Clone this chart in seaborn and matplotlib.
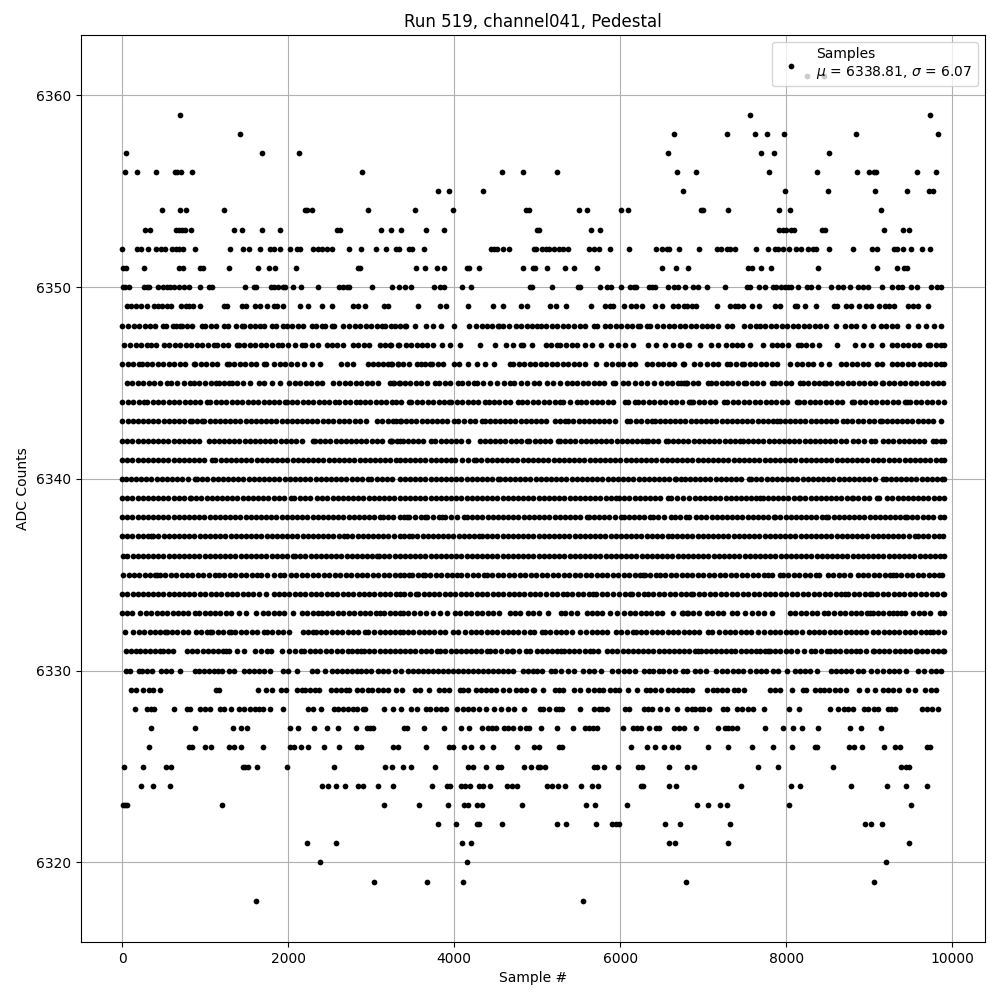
# Pedestal samples for one channel, sample numbers read per ADC level
import numpy as np
import pandas as pd
import seaborn as sns
import matplotlib
matplotlib.use("Agg")
import matplotlib.pyplot as plt

s6318 = [1608, 5550]
s6319 = [3036, 3672, 4104, 6798, 9054]
s6320 = [2388, 4152, 9198]
s6321 = [2232, 2580, 4092, 4204, 6594, 6666, 7302, 9474]
s6322 = [3804, 4020, 4276, 4304, 4572, 5238, 5346, 5706, 5898, 5946, 5982, 6546, 6726, 7326, 8946, 9018, 9150]
s6323 = [8, 32, 60, 1200, 3156, 3576, 3924, 4124, 4172, 4280, 4340, 4812, 5586, 5694, 6078, 6930, 7062, 7206, 7290, 8034, 9498]
s6324 = [228, 372, 576, 2412, 2484, 2580, 2688, 2844, 2904, 3084, 3264, 3732, 3912, 3952, 4080, 4132, 4192, 4304, 4352, 4428, 4632, 4696, 4756,
         5118, 5178, 5250, 5334, 5526, 5658, 5730, 6246, 6274, 6594, 6678, 7458, 8058, 8166, 8778, 9210, 9438, 9702]
s6325 = [24, 252, 528, 588, 1452, 1484, 1520, 1620, 1992, 2556, 3168, 3252, 3384, 3480, 3768, 4164, 4224, 4380, 4524, 4560, 4836, 4920, 5012,
         5034, 5094, 5682, 5718, 5802, 5970, 6210, 6262, 6594, 6810, 6894, 7662, 7902, 8562, 9378, 9438, 9482]
s6326 = [324, 804, 840, 996, 1068, 1284, 1344, 1428, 1692, 2028, 2072, 2160, 2244, 2436, 2616, 2832, 2876, 3264, 3324, 3660, 3944, 3984, 4116, 4200, 4332, 4464, 4752, 4964, 5018,
         5262, 5302, 6126, 6318, 6414, 6534, 6630, 6702, 7062, 7302, 7590, 7842, 8070, 8342, 8370, 8754, 8814, 8910, 9174, 9306, 9366, 9702, 9734]
s6327 = [348, 876, 1332, 1428, 1500, 2028, 2124, 2316, 2472, 2604, 2816, 2952, 2984, 3024, 3396, 3432, 3636, 3876, 4080, 4176, 4332, 4404, 4452, 4504, 4604, 4648, 4704, 4788, 4864, 4904,
         5046, 5238, 5430, 5574, 5622, 5670, 5726, 6030, 6150, 6202, 6254, 6346, 6434, 6470, 6654, 6714, 6766, 6918, 7182, 7258, 7302, 7350, 7402, 7746, 7962, 8082, 8190, 8382, 8766, 8898, 9138]
s6328 = [156, 304, 344, 384, 624, 784, 824, 936, 1004, 1064, 1176, 1224, 1308, 1404, 1464, 1536, 1604, 1644, 1692, 1776, 1944, 2244, 2304, 2400, 2552, 2604, 2664, 2724, 2784, 2832, 2904, 2932,
         3156, 3264, 3364, 3480, 3552, 3664, 3712, 3776, 3844, 3904, 4032, 4112, 4164, 4224, 4304, 4384, 4476, 4564, 4648, 4724, 4836, 5034, 5074, 5142, 5222, 5262, 5302, 5522, 5682, 5742, 5782, 5842,
         6054, 6102, 6282, 6330, 6382, 6482, 6570, 6690, 6802, 6862, 6902, 6962, 7002, 7074, 7242, 7282, 7410, 7462, 7542, 7602, 7734, 8034, 8154, 8530, 8622, 8702, 8742, 8802, 8934, 8982, 9062, 9106,
         9222, 9262, 9314, 9642, 9702, 9762, 9834]
s6329 = [104, 164, 256, 328, 368, 456, 1128, 1168, 1632, 1736, 1800, 1912, 1972, 2104, 2164, 2204, 2264, 2324, 2372, 2512, 2576, 2632, 2696, 2736, 2832, 2888, 2968, 3008, 3084, 3144, 3204, 3296, 3372,
         3524, 3584, 3692, 3816, 3872, 3936, 4072, 4104, 4164, 4264, 4324, 4384, 4444, 4504, 4584, 4656, 4744, 4804, 4864, 4944, 4962, 5070, 5210, 5262, 5310, 5442, 5514, 5610, 5682, 5742, 5790, 5882,
         5934, 5982, 6090, 6198, 6310, 6362, 6422, 6486, 6582, 6642, 6702, 6754, 6810, 6862, 7042, 7114, 7162, 7222, 7282, 7370, 7422, 7490, 7802, 7862, 7930, 8070, 8202, 8234, 8350, 8402, 8450, 8514,
         8594, 8654, 8722, 8874, 8970, 9074, 9162, 9222, 9282, 9362, 9462, 9550, 9670, 9742, 9810]
s6330 = [44, 96, 204, 244, 304, 356, 464, 524, 584, 696, 876, 924, 984, 1044, 1104, 1152, 1200, 1284, 1344, 1464, 1524, 1584, 1644, 1704, 1776, 1936, 2004, 2104, 2284, 2344, 2444, 2524, 2584, 2644,
         2704, 2764, 2824, 2884, 2944, 3004, 3084, 3144, 3204, 3284, 3364, 3444, 3504, 3564, 3624, 3684, 3744, 3804, 3864, 3924, 3984, 4044, 4104, 4164, 4224, 4284, 4344, 4404, 4464, 4524, 4584, 4644,
         4704, 4824, 4884, 4944, 5002, 5062, 5162, 5210, 5282, 5370, 5442, 5554, 5622, 5682, 5770, 5902, 5970, 6042, 6102, 6174, 6282, 6342, 6394, 6462, 6522, 6594, 6662, 6754, 6802, 6902, 6962, 7034,
         7154, 7222, 7282, 7362, 7422, 7482, 7562, 7642, 7702, 7762, 7842, 7902, 8006, 8102, 8162, 8222, 8282, 8370, 8542, 8602, 8662, 8722, 8782, 8862, 8922, 9022, 9090, 9170, 9234, 9302, 9362, 9442,
         9582, 9662, 9742, 9810, 9862]
s6331 = [52, 110, 164, 216, 276, 336, 396, 456, 492, 554, 616, 784, 846, 908, 970, 1032, 1094, 1156, 1218, 1256, 1284, 1384, 1472, 1596, 1670, 1744, 1796, 1924, 2016, 2086, 2156, 2192, 2258, 2324,
         2390, 2456, 2522, 2588, 2654, 2720, 2764, 2824, 2884, 2912, 2976, 3040, 3104, 3168, 3232, 3284, 3344, 3404, 3468, 3532, 3596, 3660, 3724, 3788, 3835, 3895, 3957, 4019, 4081, 4143, 4205, 4267,
         4329, 4395, 4427, 4495, 4563, 4631, 4695, 4715, 4785, 4863, 4915, 4995, 5055, 5115, 5175, 5235, 5283, 5323, 5385, 5447, 5509, 5571, 5633, 5675, 5735, 5843, 5905, 5967, 6029, 6091, 6153, 6215,
         6277, 6339, 6401, 6463, 6525, 6587, 6649, 6711, 6773, 6835, 6900, 6937, 6969, 7031, 7093, 7155, 7217, 7279, 7341, 7389, 7451, 7513, 7575, 7637, 7681, 7745, 7777, 7801, 7865, 7929, 7993, 8057,
         8129, 8215, 8301, 8349, 8420, 8489, 8529, 8591, 8653, 8715, 8777, 8837, 8893, 8967, 9041, 9057, 9119, 9181, 9243, 9305, 9367, 9429, 9491, 9561, 9577, 9639, 9701, 9763, 9825, 9887, 9900]
s6332 = [32, 132, 204, 268, 332, 396, 460, 512, 536, 600, 664, 728, 796, 892, 956, 1020, 1064, 1084, 1150, 1216, 1282, 1316, 1364, 1430, 1496, 1562, 1628, 1712, 1744, 1810, 1876, 1942, 2008, 2176,
         2240, 2304, 2332, 2396, 2460, 2524, 2588, 2652, 2716, 2780, 2844, 2924, 2964, 3034, 3104, 3164, 3226, 3288, 3344, 3387, 3443, 3507, 3571, 3635, 3699, 3763, 3827, 3891, 3983, 4047, 4135, 4199,
         4263, 4327, 4391, 4455, 4519, 4583, 4647, 4711, 4775, 4839, 4915, 4963, 5055, 5095, 5159, 5223, 5287, 5351, 5415, 5515, 5583, 5655, 5719, 5783, 5847, 5955, 6015, 6085, 6155, 6187, 6251, 6315,
         6379, 6443, 6507, 6571, 6635, 6699, 6763, 6827, 6891, 6955, 7057, 7101, 7189, 7261, 7325, 7389, 7453, 7517, 7581, 7657, 7737, 7801, 7865, 7929, 7993, 8057, 8121, 8189, 8269, 8333, 8397, 8461,
         8525, 8589, 8653, 8717, 8777, 8837, 8901, 8965, 9041, 9109, 9173, 9237, 9301, 9365, 9429, 9493, 9557, 9621, 9685, 9729, 9769, 9833, 9897]
s6333 = [0, 60, 120, 216, 292, 354, 416, 478, 536, 612, 672, 734, 796, 876, 924, 994, 1064, 1116, 1182, 1248, 1314, 1412, 1488, 1616, 1696, 1760, 1824, 1888, 1952, 2064, 2164, 2230, 2296, 2364, 2404,
         2464, 2530, 2596, 2662, 2728, 2794, 2860, 2926, 2992, 3058, 3104, 3156, 3224, 3288, 3344, 3387, 3443, 3513, 3583, 3663, 3747, 3831, 3915, 4007, 4073, 4139, 4205, 4271, 4337, 4403, 4469, 4535,
         4667, 4733, 4799, 4895, 4947, 5019, 5135, 5283, 5335, 5405, 5475, 5595, 5660, 5723, 5783, 5875, 5967, 6047, 6113, 6179, 6245, 6311, 6377, 6447, 6507, 6635, 6747, 6807, 6761, 6817, 6881, 6945,
         7041, 7109, 7175, 7241, 7349, 7409, 7509, 7583, 7657, 7729, 7829, 8041, 8107, 8173, 8239, 8305, 8371, 8457, 8509, 8577, 8643, 8709, 8775, 8841, 8907, 8969, 9009, 9049, 9105, 9161, 9233, 9289,
         9339, 9389, 9437, 9529, 9595, 9661, 9737, 9849, 9900]
s6334 = [4, 64, 126, 188, 250, 312, 374, 436, 498, 560, 622, 684, 746, 808, 870, 944, 1004, 1068, 1132, 1196, 1260, 1324, 1388, 1452, 1516, 1580, 1644, 1732, 1824, 1888, 1952, 2016, 2080, 2144, 2208,
         2272, 2336, 2400, 2464, 2528, 2592, 2656, 2720, 2784, 2848, 2912, 2976, 3040, 3104, 3168, 3232, 3296, 3344, 3400, 3470, 3535, 3567, 3631, 3695, 3759, 3823, 3887, 3951, 4015, 4079, 4143, 4207,
         4271, 4335, 4399, 4463, 4527, 4591, 4655, 4719, 4783, 4847, 4911, 4975, 5039, 5103, 5175, 5235, 5315, 5355, 5421, 5487, 5553, 5619, 5675, 5707, 5787, 5843, 5915, 5987, 6059, 6115, 6147, 6215,
         6283, 6335, 6401, 6467, 6533, 6599, 6665, 6731, 6797, 6857, 6881, 6947, 7013, 7079, 7145, 7211, 7277, 7343, 7409, 7475, 7541, 7607, 7673, 7739, 7805, 7871, 7937, 8003, 8069, 8135, 8201, 8267,
         8333, 8399, 8465, 8531, 8597, 8663, 8709, 8749, 8815, 8881, 8947, 9009, 9029, 9095, 9161, 9227, 9293, 9359, 9425, 9491, 9557, 9623, 9689, 9755, 9821, 9887, 9900]
s6335 = [16, 80, 144, 208, 272, 336, 400, 424, 452, 518, 584, 650, 716, 782, 848, 914, 980, 1046, 1124, 1164, 1230, 1296, 1362, 1428, 1494, 1560, 1624, 1676, 1744, 1824, 1904, 1956, 2032, 2098, 2164,
         2230, 2296, 2362, 2428, 2494, 2560, 2626, 2692, 2758, 2824, 2890, 2956, 3022, 3088, 3154, 3220, 3286, 3344, 3400, 3455, 3495, 3561, 3627, 3647, 3713, 3779, 3845, 3911, 3977, 4035, 4083, 4153,
         4223, 4293, 4363, 4395, 4461, 4527, 4593, 4659, 4725, 4791, 4857, 4923, 4989, 5055, 5121, 5187, 5253, 5319, 5385, 5451, 5517, 5583, 5649, 5715, 5781, 5847, 5913, 5979, 6045, 6111, 6177, 6243,
         6275, 6295, 6365, 6435, 6475, 6541, 6607, 6673, 6739, 6805, 6871, 6937, 7003, 7069, 7135, 7201, 7267, 7333, 7399, 7465, 7531, 7597, 7663, 7729, 7777, 7829, 7921, 7961, 8027, 8093, 8159, 8225,
         8291, 8357, 8401, 8501, 8567, 8633, 8699, 8765, 8861, 8921, 8987, 9053, 9119, 9185, 9251, 9289, 9321, 9387, 9453, 9519, 9585, 9651, 9717, 9783, 9841, 9877]
s6336 = [16, 64, 126, 188, 250, 312, 374, 436, 498, 560, 622, 684, 746, 808, 870, 932, 994, 1056, 1118, 1180, 1242, 1304, 1366, 1428, 1490, 1552, 1614, 1676, 1738, 1800, 1862, 1924, 1986, 2064, 2084,
         2146, 2208, 2270, 2332, 2394, 2456, 2518, 2580, 2642, 2704, 2766, 2828, 2890, 2952, 3014, 3072, 3096, 3158, 3220, 3282, 3344, 3406, 3468, 3530, 3592, 3654, 3716, 3778, 3840, 3902, 3964, 4026,
         4088, 4150, 4212, 4274, 4336, 4398, 4460, 4522, 4584, 4646, 4708, 4770, 4832, 4894, 4956, 5018, 5080, 5142, 5204, 5266, 5328, 5390, 5452, 5514, 5576, 5638, 5700, 5762, 5824, 5886, 5948, 6010,
         6072, 6134, 6196, 6258, 6320, 6382, 6444, 6506, 6568, 6630, 6692, 6754, 6816, 6878, 6940, 7002, 7064, 7126, 7188, 7250, 7312, 7374, 7436, 7498, 7560, 7622, 7684, 7746, 7808, 7870, 7932, 7994,
         8056, 8118, 8180, 8242, 8304, 8366, 8428, 8490, 8552, 8614, 8676, 8738, 8800, 8862, 8924, 8986, 9048, 9110, 9172, 9234, 9296, 9358, 9420, 9482, 9544, 9606, 9668, 9730, 9792, 9854, 9900]
s6337 = [0, 62, 124, 186, 248, 310, 352, 376, 438, 500, 562, 624, 686, 748, 810, 872, 934, 996, 1058, 1120, 1182, 1244, 1306, 1368, 1430, 1492, 1554, 1616, 1678, 1740, 1802, 1864, 1926, 1988, 2050,
         2112, 2174, 2236, 2298, 2360, 2422, 2484, 2546, 2608, 2670, 2712, 2774, 2836, 2898, 2960, 3022, 3084, 3146, 3208, 3270, 3344, 3400, 3455, 3495, 3557, 3619, 3681, 3743, 3805, 3867, 3929, 3991,
         4053, 4115, 4177, 4239, 4295, 4335, 4397, 4459, 4521, 4583, 4645, 4707, 4769, 4831, 4893, 4955, 5017, 5079, 5141, 5203, 5265, 5327, 5389, 5451, 5513, 5575, 5637, 5699, 5761, 5823, 5885, 5947,
         6009, 6071, 6133, 6195, 6257, 6319, 6381, 6443, 6505, 6575, 6623, 6685, 6747, 6809, 6871, 6933, 6995, 7057, 7119, 7181, 7243, 7305, 7367, 7429, 7491, 7553, 7615, 7677, 7739, 7801, 7863, 7925,
         7987, 8049, 8111, 8173, 8235, 8297, 8359, 8421, 8483, 8545, 8607, 8669, 8731, 8793, 8855, 8917, 8979, 9041, 9103, 9165, 9227, 9289, 9351, 9413, 9475, 9549, 9589, 9651, 9713, 9775, 9841, 9889]
s6338 = [0, 62, 124, 186, 248, 310, 372, 434, 496, 558, 620, 682, 744, 806, 868, 930, 992, 1054, 1116, 1178, 1240, 1302, 1364, 1426, 1488, 1550, 1612, 1674, 1736, 1798, 1860, 1922, 1984, 2046, 2108,
         2170, 2232, 2294, 2356, 2418, 2480, 2542, 2604, 2666, 2728, 2790, 2852, 2914, 2976, 3038, 3104, 3144, 3206, 3268, 3344, 3390, 3435, 3455, 3525, 3595, 3655, 3675, 3745, 3815, 3855, 3895, 3965,
         4035, 4115, 4155, 4217, 4279, 4341, 4403, 4465, 4527, 4589, 4651, 4713, 4775, 4837, 4899, 4961, 5023, 5085, 5147, 5209, 5271, 5333, 5395, 5457, 5519, 5595, 5623, 5685, 5747, 5809, 5871, 5933,
         6015, 6043, 6105, 6167, 6229, 6291, 6355, 6395, 6461, 6527, 6615, 6655, 6725, 6790, 6835, 6909, 6977, 7039, 7101, 7163, 7225, 7287, 7349, 7411, 7473, 7535, 7597, 7659, 7721, 7783, 7849, 7869,
         7931, 7993, 8055, 8117, 8179, 8241, 8303, 8365, 8427, 8481, 8509, 8571, 8633, 8695, 8757, 8819, 8881, 8943, 9005, 9067, 9129, 9191, 9253, 9315, 9377, 9429, 9457, 9519, 9581, 9643, 9705, 9767,
         9857, 9900]
s6339 = [0, 62, 124, 186, 248, 310, 372, 434, 496, 558, 620, 682, 744, 824, 832, 894, 956, 1018, 1080, 1142, 1204, 1266, 1328, 1390, 1452, 1514, 1576, 1638, 1700, 1762, 1824, 1886, 1948, 2032, 2076,
         2140, 2204, 2268, 2344, 2412, 2474, 2536, 2598, 2660, 2722, 2784, 2846, 2908, 2970, 3032, 3094, 3156, 3218, 3280, 3344, 3406, 3468, 3530, 3592, 3654, 3716, 3778, 3840, 3902, 3964, 4026, 4088,
         4150, 4212, 4274, 4336, 4398, 4460, 4522, 4584, 4646, 4708, 4770, 4832, 4894, 4956, 5018, 5080, 5142, 5204, 5266, 5328, 5390, 5452, 5514, 5576, 5638, 5700, 5762, 5824, 5886, 5955, 5987, 6049,
         6111, 6173, 6235, 6297, 6359, 6421, 6483, 6575, 6615, 6685, 6755, 6835, 6897, 6959, 7021, 7083, 7145, 7207, 7269, 7331, 7393, 7455, 7517, 7579, 7641, 7689, 7717, 7779, 7841, 7903, 7965, 8027,
         8089, 8149, 8169, 8231, 8293, 8355, 8417, 8479, 8541, 8603, 8665, 8727, 8789, 8809, 8871, 8933, 8995, 9089, 9121, 9217, 9279, 9341, 9403, 9465, 9527, 9589, 9651, 9713, 9775, 9837, 9899]
s6340 = [0, 44, 106, 168, 230, 292, 354, 416, 478, 540, 602, 664, 726, 788, 884, 904, 966, 1028, 1090, 1152, 1214, 1276, 1338, 1400, 1462, 1524, 1586, 1648, 1710, 1772, 1834, 1896, 1958, 2020, 2082,
         2144, 2206, 2268, 2330, 2392, 2454, 2516, 2578, 2640, 2702, 2764, 2826, 2888, 2964, 3004, 3066, 3128, 3190, 3252, 3344, 3406, 3468, 3530, 3592, 3654, 3716, 3778, 3840, 3902, 3964, 4026, 4088,
         4150, 4212, 4274, 4336, 4398, 4460, 4523, 4547, 4609, 4671, 4733, 4795, 4857, 4919, 4981, 5043, 5105, 5167, 5229, 5291, 5353, 5415, 5477, 5539, 5601, 5663, 5725, 5787, 5849, 5911, 5973, 6035,
         6097, 6159, 6221, 6283, 6345, 6407, 6469, 6531, 6593, 6655, 6675, 6737, 6777, 6839, 6901, 6963, 7025, 7087, 7149, 7211, 7273, 7335, 7397, 7459, 7557, 7577, 7639, 7701, 7763, 7825, 7887, 7949,
         8011, 8073, 8135, 8197, 8259, 8321, 8383, 8445, 8507, 8569, 8631, 8693, 8755, 8817, 8879, 8941, 9003, 9065, 9169, 9197, 9259, 9321, 9383, 9445, 9507, 9569, 9631, 9693, 9755, 9817, 9879, 9900]
s6341 = [0, 62, 124, 186, 248, 310, 372, 434, 496, 558, 620, 682, 744, 806, 868, 930, 992, 1084, 1124, 1186, 1248, 1310, 1372, 1434, 1496, 1558, 1620, 1682, 1744, 1806, 1868, 1930, 1992, 2054, 2116,
         2178, 2240, 2302, 2364, 2426, 2488, 2550, 2612, 2674, 2736, 2798, 2860, 2922, 2984, 3046, 3108, 3170, 3232, 3294, 3344, 3406, 3468, 3530, 3592, 3654, 3716, 3778, 3840, 3902, 3964, 4015, 4095,
         4165, 4235, 4267, 4329, 4391, 4453, 4515, 4577, 4639, 4701, 4763, 4825, 4887, 4949, 5011, 5073, 5135, 5197, 5259, 5321, 5383, 5445, 5507, 5569, 5631, 5693, 5755, 5817, 5879, 5941, 6003, 6065,
         6127, 6189, 6251, 6313, 6375, 6437, 6499, 6561, 6623, 6685, 6747, 6809, 6871, 6933, 6995, 7057, 7119, 7181, 7243, 7305, 7367, 7429, 7491, 7553, 7615, 7677, 7739, 7801, 7863, 7925, 7987, 8049,
         8111, 8173, 8235, 8297, 8359, 8421, 8483, 8545, 8607, 8669, 8731, 8793, 8855, 8917, 8979, 9041, 9103, 9165, 9241, 9303, 9365, 9427, 9489, 9551, 9613, 9675, 9737, 9799, 9861, 9900]
s6342 = [0, 62, 124, 186, 248, 310, 372, 434, 496, 558, 620, 682, 744, 806, 868, 930, 1044, 1104, 1166, 1228, 1290, 1352, 1414, 1476, 1538, 1600, 1662, 1724, 1786, 1848, 1910, 1972, 2034, 2096, 2164,
         2304, 2324, 2386, 2448, 2510, 2572, 2634, 2696, 2758, 2820, 2882, 2944, 3006, 3068, 3130, 3224, 3244, 3344, 3255, 3317, 3379, 3441, 3503, 3565, 3627, 3723, 3775, 3837, 3899, 3961, 4023, 4085,
         4167, 4307, 4369, 4431, 4493, 4555, 4617, 4679, 4741, 4803, 4875, 4907, 4969, 5031, 5093, 5155, 5247, 5275, 5337, 5399, 5461, 5523, 5585, 5647, 5709, 5771, 5833, 5895, 5957, 6019, 6081, 6143,
         6205, 6267, 6315, 6335, 6397, 6459, 6555, 6575, 6637, 6699, 6761, 6823, 6885, 6947, 7009, 7071, 7133, 7195, 7257, 7319, 7381, 7449, 7477, 7539, 7601, 7663, 7725, 7787, 7849, 7911, 7973, 8035,
         8097, 8159, 8221, 8283, 8345, 8407, 8469, 8531, 8593, 8655, 8717, 8809, 8869, 8943, 9017, 9069, 9161, 9229, 9291, 9353, 9415, 9477, 9539, 9601, 9663, 9769, 9809, 9869, 9900]
s6343 = [4, 66, 128, 190, 252, 314, 376, 438, 500, 562, 624, 686, 748, 816, 844, 904, 964, 992, 1054, 1116, 1178, 1240, 1302, 1364, 1426, 1488, 1550, 1612, 1674, 1736, 1798, 1860, 1922, 1984, 2046,
         2108, 2164, 2224, 2288, 2352, 2416, 2476, 2544, 2608, 2672, 2736, 2800, 2864, 2936, 3072, 3136, 3200, 3264, 3344, 3297, 3359, 3421, 3483, 3545, 3607, 3669, 3731, 3793, 3855, 3917, 3995, 4047,
         4117, 4187, 4257, 4335, 4367, 4429, 4491, 4553, 4615, 4677, 4739, 4801, 4863, 4925, 4987, 5049, 5111, 5215, 5275, 5335, 5375, 5437, 5499, 5561, 5623, 5685, 5747, 5809, 5871, 5933, 6083, 6115,
         6185, 6255, 6325, 6387, 6415, 6477, 6539, 6601, 6663, 6725, 6787, 6849, 6911, 6973, 7035, 7097, 7159, 7221, 7283, 7345, 7407, 7469, 7531, 7593, 7655, 7717, 7779, 7841, 7889, 7921, 7983, 8045,
         8107, 8169, 8231, 8293, 8355, 8417, 8479, 8541, 8603, 8689, 8729, 8795, 8861, 8927, 8993, 9059, 9129, 9149, 9211, 9273, 9335, 9397, 9459, 9521, 9583, 9645, 9707, 9769, 9869]
s6344 = [0, 66, 132, 198, 264, 304, 368, 432, 496, 560, 624, 688, 752, 816, 880, 944, 1024, 1064, 1128, 1192, 1256, 1320, 1384, 1448, 1512, 1576, 1640, 1704, 1768, 1832, 1896, 1964, 1984, 2048, 2112,
         2176, 2240, 2304, 2368, 2432, 2496, 2564, 2616, 2682, 2748, 2816, 2864, 2928, 2992, 3056, 3120, 3184, 3248, 3304, 3363, 3455, 3483, 3549, 3615, 3681, 3747, 3815, 3875, 3935, 3963, 4029, 4095,
         4161, 4227, 4293, 4375, 4415, 4475, 4541, 4607, 4673, 4775, 4815, 4883, 4949, 5015, 5081, 5147, 5213, 5275, 5315, 5395, 5475, 5523, 5589, 5655, 5721, 5787, 5853, 5919, 6055, 6095, 6175, 6215,
         6281, 6347, 6413, 6479, 6545, 6611, 6677, 6743, 6835, 6849, 6881, 6947, 7013, 7079, 7145, 7249, 7289, 7355, 7421, 7487, 7553, 7619, 7685, 7751, 7817, 7883, 7949, 8015, 8129, 8149, 8215, 8281,
         8347, 8413, 8479, 8545, 8611, 8677, 8789, 8821, 8887, 8953, 9019, 9085, 9151, 9217, 9283, 9349, 9429, 9457, 9497, 9563, 9629, 9695, 9761, 9827, 9900]
s6345 = [56, 122, 188, 254, 320, 386, 452, 544, 584, 664, 744, 824, 864, 932, 1000, 1068, 1136, 1164, 1224, 1284, 1324, 1390, 1456, 1544, 1644, 1712, 1808, 1904, 2016, 2082, 2148, 2214, 2280, 2346,
         2412, 2544, 2616, 2682, 2748, 2814, 2880, 2946, 3012, 3078, 3224, 3264, 3344, 3275, 3341, 3407, 3473, 3539, 3605, 3671, 3775, 3815, 3885, 3955, 4047, 4095, 4165, 4235, 4275, 4351, 4427, 4515,
         4595, 4675, 4727, 4803, 4883, 4963, 5027, 5115, 5195, 5275, 5355, 5415, 5481, 5547, 5613, 5679, 5745, 5811, 5915, 5943, 6035, 6095, 6175, 6255, 6323, 6403, 6495, 6561, 6627, 6693, 6795, 6729,
         6769, 6809, 6875, 6941, 7061, 7089, 7155, 7221, 7287, 7353, 7419, 7489, 7521, 7587, 7653, 7719, 7829, 7861, 7927, 7993, 8059, 8169, 8201, 8267, 8333, 8399, 8457, 8477, 8543, 8609, 8675, 8741,
         8807, 8873, 8939, 9005, 9071, 9149, 9169, 9235, 9301, 9367, 9433, 9499, 9565, 9631, 9697, 9763, 9829, 9895]
s6346 = [0, 66, 132, 198, 244, 304, 364, 432, 498, 564, 630, 696, 762, 864, 884, 950, 1016, 1082, 1148, 1264, 1284, 1350, 1416, 1482, 1548, 1614, 1704, 1732, 1832, 1900, 1968, 2036, 2104, 2192, 2288,
         2384, 2632, 2708, 2784, 2964, 3024, 3084, 3144, 3204, 3244, 3324, 3255, 3321, 3387, 3453, 3555, 3595, 3655, 3715, 3735, 3801, 3867, 3995, 4055, 4165, 4275, 4367, 4475, 4667, 4715, 4781, 4847,
         4913, 4979, 5045, 5111, 5177, 5243, 5309, 5375, 5441, 5507, 5573, 5707, 5835, 5907, 5973, 6039, 6123, 6183, 6323, 6389, 6455, 6521, 6587, 6653, 6775, 6761, 6889, 6957, 7049, 7115, 7181, 7289,
         7329, 7401, 7469, 7497, 7563, 7629, 7695, 7761, 7827, 7893, 8049, 8129, 8195, 8261, 8327, 8417, 8521, 8657, 8723, 8789, 8855, 8921, 8987, 9089, 9149, 9269, 9335, 9401, 9467, 9533, 9609, 9669,
         9737, 9803, 9869, 9900]
s6347 = [24, 94, 164, 224, 304, 354, 404, 504, 570, 636, 702, 768, 834, 900, 966, 1032, 1104, 1144, 1210, 1276, 1384, 1404, 1470, 1536, 1602, 1668, 1734, 1800, 1884, 1924, 2004, 2084, 2164, 2204, 2292,
         2364, 2464, 2524, 2590, 2656, 2784, 2844, 2910, 2976, 3104, 3164, 3230, 3324, 3235, 3335, 3415, 3481, 3547, 3613, 3679, 3745, 3855, 3955, 4067, 4315, 4495, 4623, 4713, 4803, 4827, 4943, 5103,
         5169, 5235, 5275, 5345, 5415, 5485, 5575, 5655, 5767, 5895, 5975, 6055, 6155, 6335, 6435, 6535, 6635, 6715, 6815, 6729, 6829, 6961, 7089, 7179, 7269, 7349, 7409, 7469, 7561, 7721, 7829, 7889,
         7955, 8021, 8137, 8177, 8243, 8309, 8401, 8617, 8829, 8929, 9021, 9149, 9269, 9337, 9403, 9469, 9535, 9601, 9709, 9737, 9803, 9869, 9900]
s6348 = [0, 72, 144, 204, 270, 336, 402, 496, 524, 616, 644, 692, 716, 782, 848, 964, 1004, 1070, 1136, 1232, 1272, 1372, 1444, 1472, 1538, 1604, 1656, 1704, 1804, 1856, 1936, 1984, 2050, 2116, 2182,
         2284, 2336, 2404, 2444, 2524, 2556, 2656, 2736, 2802, 2868, 2934, 3000, 3066, 3136, 3164, 3244, 3284, 3344, 3404, 3424, 3524, 3664, 3744, 3840, 3996, 4176, 4264, 4330, 4396, 4462, 4524, 4544,
         4584, 4656, 4744, 4810, 4876, 4942, 5002, 5042, 5108, 5174, 5240, 5306, 5372, 5438, 5522, 5582, 5682, 5722, 5822, 5882, 5948, 6014, 6080, 6146, 6210, 6242, 6322, 6362, 6442, 6522, 6588, 6654,
         6720, 6786, 6852, 6918, 6982, 7042, 7108, 7174, 7282, 7342, 7490, 7566, 7642, 7682, 7748, 7814, 7880, 7946, 8012, 8078, 8144, 8210, 8276, 8342, 8408, 8474, 8602, 8710, 8782, 8842, 8942, 9042,
         9142, 9208, 9274, 9340, 9462, 9582, 9682, 9782, 9862]
s6349 = [60, 104, 168, 224, 304, 384, 432, 484, 544, 584, 708, 768, 800, 856, 936, 1232, 1264, 1440, 1496, 1596, 1656, 1740, 1824, 1872, 1944, 2148, 2236, 2404, 2532, 2776, 2836, 2928, 3160, 3208, 3568,
         3824, 3904, 4172, 4468, 4588, 4800, 4872, 5154, 5226, 5346, 5646, 5814, 5882, 5910, 6042, 6134, 6186, 6258, 6414, 6502, 6642, 6702, 6770, 6810, 6862, 6910, 7170, 7322, 7382, 7422, 7474, 7590,
         7674, 7862, 7930, 8102, 8134, 8226, 8358, 8570, 8610, 8722, 8782, 8874, 8962, 9022, 9114, 9186, 9242, 9302, 9462, 9522, 9582, 9714]
s6350 = [8, 40, 88, 264, 304, 328, 432, 492, 544, 576, 628, 688, 744, 800, 936, 1044, 1084, 1476, 1584, 1612, 1788, 1832, 1884, 1944, 1968, 2064, 2160, 2364, 2616, 2656, 2704, 2728, 3012, 3252, 3336, 3408,
         3480, 3756, 3832, 3876, 4092, 4200, 4908, 4934, 5178, 5490, 5522, 5754, 5838, 5894, 6006, 6114, 6162, 6186, 6346, 6382, 6422, 6578, 6650, 6698, 6786, 6882, 6942, 7050, 7266, 7522, 7562, 7674,
         7746, 7842, 7874, 7942, 7982, 8022, 8062, 8146, 8250, 8294, 8382, 8542, 8622, 8682, 8766, 8870, 8922, 8982, 9154, 9270, 9342, 9394, 9506, 9570, 9750, 9822, 9862]
s6351 = [16, 44, 264, 680, 728, 944, 976, 1284, 1632, 1764, 1836, 2100, 2844, 2864, 3540, 3648, 3792, 3876, 4160, 4184, 4296, 4824, 4956, 4974, 5118, 5334, 5442, 5718, 6510, 6678, 6822, 7542, 7594, 7698,
         7818, 8382, 9090, 9330, 9422, 9450]
s6352 = [0, 184, 224, 312, 404, 464, 512, 604, 644, 684, 736, 876, 1296, 1452, 1524, 1656, 1784, 1832, 1900, 2028, 2104, 2144, 2304, 2364, 2404, 2464, 2532, 2736, 2880, 3060, 3180, 3304, 3332, 3456, 3496,
         3636, 4444, 4484, 4512, 4584, 4656, 4968, 4986, 5062, 5102, 5142, 5202, 5262, 5314, 5370, 5622, 5682, 5742, 5874, 6102, 6434, 6502, 6562, 6594, 6714, 6954, 7162, 7210, 7282, 7322, 7386, 7638,
         7782, 7862, 7902, 7962, 8034, 8122, 8182, 8262, 8322, 8362, 8514, 8802, 9030, 9090, 9294, 9330, 9402, 9502, 9634, 9738]
s6353 = [276, 340, 648, 684, 716, 756, 828, 1344, 1440, 1680, 1908, 2592, 2624, 3120, 3240, 3360, 3660, 3876, 5004, 5022, 5646, 5754, 7914, 7962, 8002, 8062, 8090, 8434, 8470, 9174, 9410, 9474]
s6354 = [480, 696, 768, 1224, 2200, 2224, 2292, 2964, 3528, 3984, 4864, 4904, 5502, 5598, 6006, 6090, 6974, 6994, 7302, 7914, 8046, 9138]
s6355 = [3804, 3936, 4344, 6762, 7986, 8502, 9066, 9450, 9722, 9770]
s6356 = [36, 180, 408, 636, 664, 708, 840, 2892, 4572, 4824, 5238, 6690, 6918, 7794, 8370, 8850, 9002, 9062, 9082, 9570, 9810]
s6357 = [48, 1680, 2136, 6582, 7698, 7854, 8514]
s6358 = [1416, 6654, 7290, 7626, 7770, 7974, 8838, 9834]
s6359 = [696, 7566, 9738]
s6361 = [8250, 8450]

levels = [6318, 6319, 6320, 6321, 6322, 6323, 6324, 6325, 6326, 6327, 6328, 6329, 6330, 6331, 6332, 6333, 6334, 6335,
          6336, 6337, 6338, 6339, 6340, 6341, 6342, 6343, 6344, 6345, 6346, 6347, 6348, 6349, 6350, 6351, 6352, 6353,
          6354, 6355, 6356, 6357, 6358, 6359, 6361]
samples = [s6318, s6319, s6320, s6321, s6322, s6323, s6324, s6325, s6326, s6327, s6328, s6329, s6330, s6331, s6332, s6333, s6334, s6335,
           s6336, s6337, s6338, s6339, s6340, s6341, s6342, s6343, s6344, s6345, s6346, s6347, s6348, s6349, s6350, s6351, s6352, s6353,
           s6354, s6355, s6356, s6357, s6358, s6359, s6361]

df = pd.concat([pd.DataFrame({"sample": s, "adc": lvl}) for lvl, s in zip(levels, samples)])

fig = plt.figure(figsize=(10, 10), dpi=100)
ax = fig.add_axes([0.081, 0.058, 0.904, 0.907])
sns.scatterplot(data=df, x="sample", y="adc", marker="o", s=17, color="k", linewidth=0, zorder=3, ax=ax,
                label="Samples\n$\\mu$ = 6338.81, $\\sigma$ = 6.07")
ax.set_xlim(-495, 10395)
ax.set_ylim(6315.85, 6363.15)
ax.set_xlabel("Sample #")
ax.set_ylabel("ADC Counts")
ax.set_title("Run 519, channel041, Pedestal")
ax.grid(True)
ax.legend(loc="upper right")
plt.savefig("out.png")
